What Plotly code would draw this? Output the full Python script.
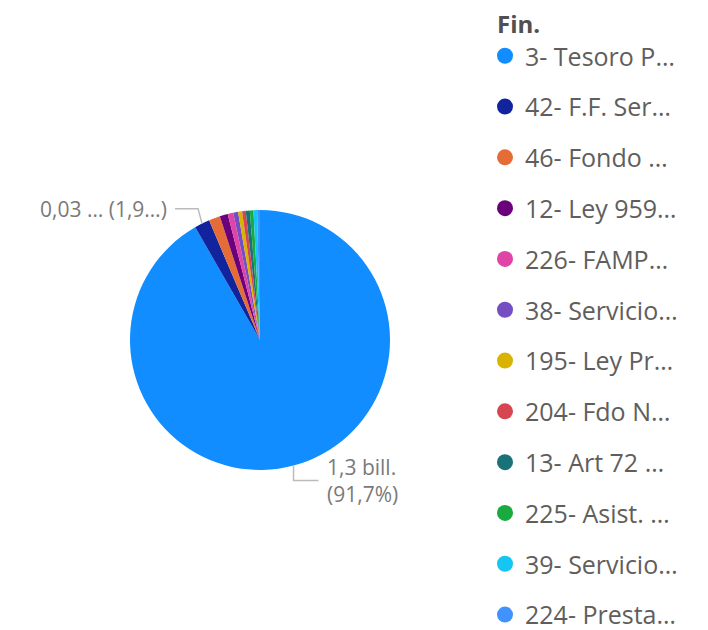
import math
import plotly.graph_objects as go

# categories as shown (truncated) in the legend
categories = ['3- Tesoro P…', '42- F.F. Ser…', '46- Fondo …', '12- Ley 959…',
              '226- FAMP…', '38- Servicio…', '195- Ley Pr…', '204- Fdo N…',
              '13- Art 72 …', '225- Asist. …', '39- Servicio…', '224- Presta…']

# amounts in billones
values = [1.3021, 0.0270, 0.0199, 0.0142, 0.0099, 0.0085,
          0.0071, 0.0064, 0.0071, 0.0064, 0.0064, 0.0050]

colors = ['#118DFF', '#12239E', '#E66C37', '#6B007B', '#E044A7', '#744EC2',
          '#D9B300', '#D64550', '#197278', '#1AAB40', '#15C6F4', '#4092FF']

# slices that get a data label
labelled = [0, 1]

W, H = 708, 630
# the page body adds an 8px margin, so positions are given relative to the plot div
cx, cy, r = 252, 332, 130

fig = go.Figure()

fig.add_trace(go.Pie(labels=categories, values=values, sort=False,
                     direction='clockwise', rotation=0,
                     marker=dict(colors=colors, line=dict(width=0)),
                     textinfo='none', showlegend=False, hoverinfo='label+value+percent',
                     domain=dict(x=[(cx - r) / W, (cx + r) / W],
                                 y=[1 - (cy + r) / H, 1 - (cy - r) / H])))

# legend with round markers, one group per item so the spacing can be set
for name, col in zip(categories, colors):
    fig.add_trace(go.Scatter(x=[None], y=[None], mode='markers', name=name,
                             legendgroup=name,
                             marker=dict(symbol='circle', size=16, color=col)))

total = sum(values)


def fmt(x, d):
    return f'{x:.{d}f}'.replace('.', ',')


shapes = []
annotations = []
cum = 0
for i, v in enumerate(values):
    mid = (cum + v / 2) / total * 2 * math.pi
    cum += v
    if i not in labelled:
        continue
    px = cx + r * math.sin(mid)
    py = cy - r * math.cos(mid)
    pct = v / total * 100
    if math.sin(mid) >= 0:
        ex, ey = px, py + 15
        hx = ex + 25
        txt = fmt(v, 1) + ' bill.<br>(' + fmt(pct, 1) + '%)'
        annotations.append(dict(x=(hx + 6) / W, y=1 - ey / H, xref='paper', yref='paper',
                                text=txt, showarrow=False, xanchor='left', yanchor='middle',
                                align='left', font=dict(size=21, color='#7A7A7A')))
    else:
        ex, ey = px - 4, py - 15
        hx = ex - 23
        txt = fmt(v, 2) + ' … (' + fmt(pct, 1)[:3] + '…)'
        annotations.append(dict(x=(hx - 6) / W, y=1 - ey / H, xref='paper', yref='paper',
                                text=txt, showarrow=False, xanchor='right', yanchor='middle',
                                font=dict(size=21, color='#7A7A7A')))
    shapes.append(dict(type='path', xref='paper', yref='paper',
                       path=f'M{px / W},{1 - py / H} L{ex / W},{1 - ey / H} L{hx / W},{1 - ey / H}',
                       line=dict(color='#BBBBBB', width=1.5)))

# legend title
annotations.append(dict(x=487 / W, y=1 - 15 / H, xref='paper', yref='paper',
                        text='<b>Fin.</b>', showarrow=False, xanchor='left', yanchor='middle',
                        font=dict(size=24, color='#505050')))

fig.update_layout(width=W, height=H,
                  margin=dict(l=0, r=0, t=0, b=0),
                  paper_bgcolor='white', plot_bgcolor='white',
                  font=dict(family='Open Sans, Noto Sans, sans-serif', color='#605E5C'),
                  xaxis=dict(visible=False), yaxis=dict(visible=False),
                  shapes=shapes, annotations=annotations,
                  legend=dict(x=477 / W, y=1 - 38 / H, xanchor='left', yanchor='top',
                              font=dict(size=25, color='#605E5C'),
                              tracegroupgap=15.3, itemsizing='trace',
                              bgcolor='rgba(0,0,0,0)'))

fig.write_html('out.html')
